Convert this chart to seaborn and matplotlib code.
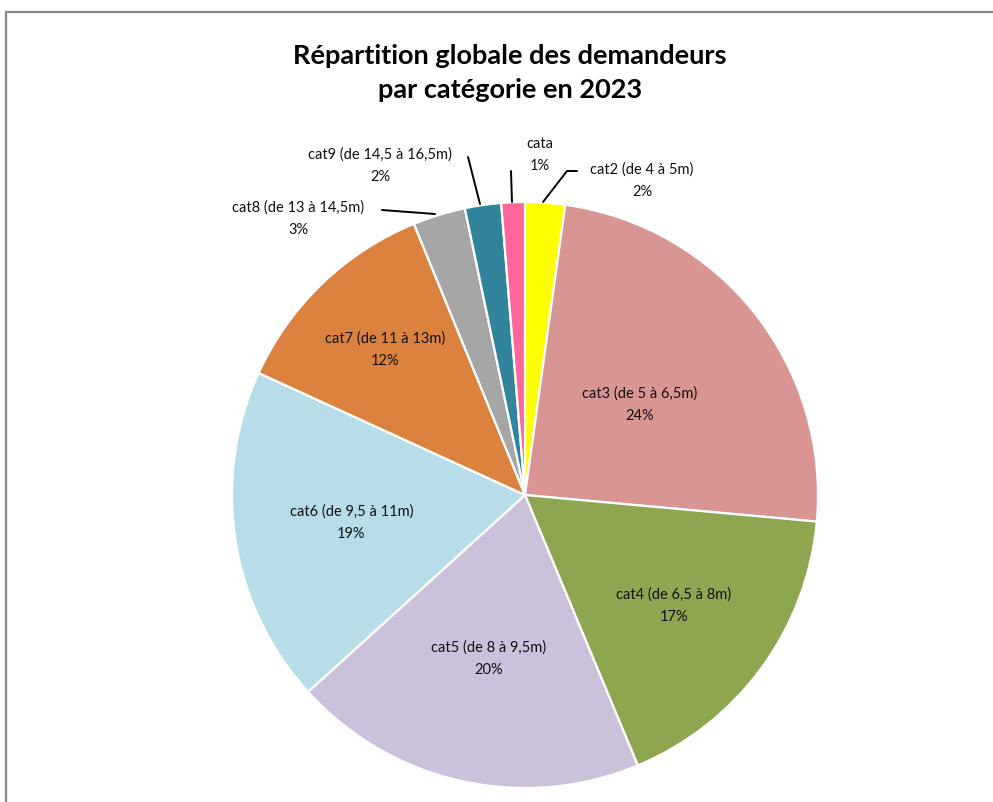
import numpy as np
import matplotlib
matplotlib.use("Agg")
import matplotlib.pyplot as plt
import seaborn as sns
from matplotlib.patches import Rectangle

# data (share of applicants per category, clockwise from top)
categories = ["cat2 (de 4 à 5m)", "cat3 (de 5 à 6,5m)", "cat4 (de 6,5 à 8m)",
              "cat5 (de 8 à 9,5m)", "cat6 (de 9,5 à 11m)", "cat7 (de 11 à 13m)",
              "cat8 (de 13 à 14,5m)", "cat9 (de 14,5 à 16,5m)", "cata"]
values = [2.2, 24.3, 17.3, 19.6, 18.6, 12.0, 2.9, 2.0, 1.3]
colors = ["#FFFF00", "#D99594", "#8EA64F", "#CCC1DA", "#B7DDE8",
          "#DB833E", "#A6A6A6", "#31849B", "#FF6699"]

sns.set_theme(style="white")
plt.rcParams['font.family'] = ['Lato', 'DejaVu Sans']

fig = plt.figure(figsize=(9.93, 8.03), dpi=100)
fig.patch.set_facecolor("white")

# frame like the spreadsheet chart area
fig.patches.append(Rectangle((6 / 993, -0.05), 1.1, (803 - 13) / 803 + 0.05,
                             transform=fig.transFigure, fill=False,
                             edgecolor="#888888", linewidth=1.6))

ax = fig.add_axes([(525 - 293) / 993, (803 - 496 - 293) / 803, 586 / 993, 586 / 803])
wedges, _ = ax.pie(values, colors=sns.color_palette(colors), startangle=90,
                   counterclock=False, radius=1.0,
                   wedgeprops=dict(edgecolor="white", linewidth=1.6))
ax.set_xlim(-1, 1)
ax.set_ylim(-1, 1)
ax.set_aspect("equal")
ax.axis("off")

total = sum(values)
pcts = [f"{round(v / total * 100)}%" for v in values]

# inside labels for the big slices
inner_r = {1: 0.50, 2: 0.63, 3: 0.57, 4: 0.60, 5: 0.69}
for i, r in inner_r.items():
    w = wedges[i]
    ang = np.deg2rad((w.theta1 + w.theta2) / 2)
    ax.text(r * np.cos(ang), r * np.sin(ang), f"{categories[i]}\n{pcts[i]}",
            ha="center", va="center", fontsize=10.5, color="#111111", linespacing=1.75)

# outside labels with leader lines for small slices
def px(x, y):
    return ((x - 525) / 293, (496 - y) / 293)

outer = {
    0: ((642, 181), [(543, 203), (567, 172), (577, 172)]),
    8: ((540, 155), [(512, 203), (511, 172)]),
    7: ((380, 166), [(480, 205), (468, 158)]),
    6: ((298, 219), [(435, 215), (382, 211)]),
}
for i, (tpos, pts) in outer.items():
    tx, ty = px(*tpos)
    ax.text(tx, ty, f"{categories[i]}\n{pcts[i]}", ha="center", va="center",
            fontsize=10.5, color="#111111", linespacing=1.75)
    xs, ys = zip(*[px(*p) for p in pts])
    ax.plot(xs, ys, color="black", linewidth=1.4, clip_on=False)

fig.text(510 / 993, 1 - 73 / 803, "Répartition globale des demandeurs\npar catégorie en 2023",
         ha="center", va="center", fontsize=19.5, fontweight="bold", color="black",
         linespacing=1.45)

fig.savefig("out.png", dpi=100)
